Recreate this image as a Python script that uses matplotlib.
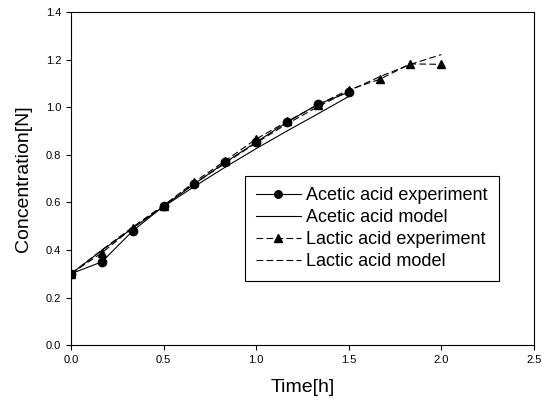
import numpy as np
import matplotlib
matplotlib.use("Agg")
import matplotlib.pyplot as plt

plt.rcParams['font.family'] = ['Liberation Sans', 'DejaVu Sans']

#time grid (10 min steps)
time_acetic = [0, 1/6, 1/3, 0.5, 2/3, 5/6, 1.0, 7/6, 4/3, 1.5]
time_lactic = [0, 1/6, 1/3, 0.5, 2/3, 5/6, 1.0, 7/6, 4/3, 1.5, 5/3, 11/6, 2.0]

#measured values
acetic_exp = [0.30, 0.35, 0.48, 0.584, 0.678, 0.768, 0.853, 0.937, 1.012, 1.063]
lactic_exp = [0.30, 0.388, 0.493, 0.586, 0.686, 0.775, 0.866, 0.940, 1.010, 1.073, 1.117, 1.182, 1.180]

#model curves
acetic_model = [0.30, 0.398, 0.492, 0.582, 0.667, 0.748, 0.826, 0.900, 0.972, 1.045]
lactic_model = [0.30, 0.400, 0.496, 0.588, 0.678, 0.765, 0.850, 0.930, 1.002, 1.068, 1.128, 1.180, 1.221]

labels = ["Acetic acid experiment", "Acetic acid model",
          "Lactic acid experiment", "Lactic acid model"]

fig = plt.figure(figsize=(5.42, 4.07), dpi=100)
ax = fig.add_axes([0.131, 0.152, 0.854, 0.8185])

ax.plot(time_acetic, acetic_exp, color='k', lw=0.8, marker='o', ms=6, label=labels[0])
ax.plot(time_acetic, acetic_model, color='k', lw=0.8, label=labels[1])
ax.plot(time_lactic, lactic_exp, color='k', lw=0.8, ls=(0, (6, 3)), marker='^', ms=6, label=labels[2])
ax.plot(time_lactic, lactic_model, color='k', lw=0.8, ls=(0, (6, 3)), label=labels[3])

ax.set_xlim(0, 2.5)
ax.set_ylim(0, 1.4)
ax.set_xticks(np.arange(0, 2.51, 0.5))
ax.set_yticks(np.arange(0, 1.41, 0.2))
ax.xaxis.set_major_formatter(matplotlib.ticker.FormatStrFormatter('%.1f'))
ax.yaxis.set_major_formatter(matplotlib.ticker.FormatStrFormatter('%.1f'))
ax.tick_params(direction='out', length=3.5, width=0.8, labelsize=8, top=False, right=False)
for s in ax.spines.values():
    s.set_linewidth(0.8)

ax.set_xlabel("Time[h]", fontsize=14, labelpad=10)
ax.set_ylabel("Concentration[N]", fontsize=14, labelpad=10)

leg = ax.legend(loc='upper left', bbox_to_anchor=(0.376, 0.5075), fontsize=13,
                frameon=True, fancybox=False, edgecolor='k', framealpha=1,
                handlelength=2.5, handletextpad=0.3, labelspacing=0.28,
                borderpad=0.6, borderaxespad=0, markerscale=0.9)
leg.get_frame().set_linewidth(0.8)

fig.savefig("out.png", dpi=100)
